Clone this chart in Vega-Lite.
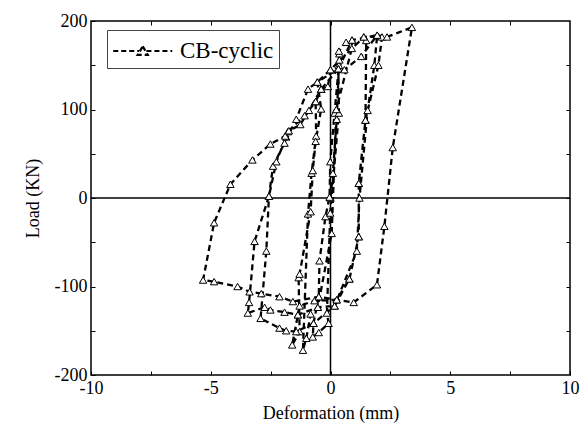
{
  "$schema": "https://vega.github.io/schema/vega-lite/v6.json",
  "width": 479,
  "height": 354,
  "padding": {"left": 91, "top": 21, "right": 14, "bottom": 62},
  "autosize": {"type": "none"},
  "config": {
    "font": "Liberation Serif",
    "view": {"stroke": "black", "strokeWidth": 1.5},
    "axis": {
      "domain": false, "grid": false, "labelFont": "Liberation Serif", "titleFont": "Liberation Serif",
      "labelFontSize": 18, "titleFontSize": 18, "titleFontWeight": "normal", "labelColor": "black", "titleColor": "black",
      "tickColor": "black", "tickSize": -4, "tickWidth": 1, "labelFlush": false,
      "labelExpr": "datum.value % 5 != 0 || (datum.value % 100 != 0 && abs(datum.value) > 10) ? '' : (datum.value < 0 ? '-' + abs(datum.value) : '' + datum.value)"
    }
  },
  "data": {
    "values": [
      {"o": 1, "d": 0, "f": 0}, {"o": 2, "d": 0.1, "f": 28}, {"o": 3, "d": 0.26, "f": 89}, {"o": 4, "d": 0.35, "f": 150},
      {"o": 5, "d": 0.37, "f": 163}, {"o": 6, "d": 0.37, "f": 156}, {"o": 7, "d": 0.17, "f": 96}, {"o": 8, "d": -0.01, "f": 41},
      {"o": 9, "d": -0.04, "f": 1}, {"o": 10, "d": -0.21, "f": -21}, {"o": 11, "d": -0.46, "f": -71}, {"o": 12, "d": -0.49, "f": -111.5},
      {"o": 13, "d": -0.71, "f": -141.6}, {"o": 14, "d": -0.74, "f": -157}, {"o": 15, "d": -0.49, "f": -152}, {"o": 16, "d": -0.08, "f": -141.6},
      {"o": 17, "d": -0.15, "f": -130}, {"o": 18, "d": -0.01, "f": -17}, {"o": 19, "d": 0.35, "f": 96}, {"o": 20, "d": 0.33, "f": 146},
      {"o": 21, "d": 0.35, "f": 166},
      {"o": 22, "d": 0.65, "f": 176}, {"o": 23, "d": 0.9, "f": 178.5}, {"o": 24, "d": 0.89, "f": 169}, {"o": 25, "d": 0.24, "f": 100},
      {"o": 26, "d": 0.05, "f": -40}, {"o": 27, "d": -0.53, "f": -123.5}, {"o": 28, "d": -0.83, "f": -131}, {"o": 29, "d": -1.01, "f": -158.5},
      {"o": 30, "d": -1.15, "f": -172}, {"o": 31, "d": -0.94, "f": -18}, {"o": 32, "d": -0.79, "f": 28}, {"o": 33, "d": -0.6, "f": 70},
      {"o": 34, "d": -0.62, "f": 109}, {"o": 35, "d": -0.39, "f": 123}, {"o": 36, "d": -0.11, "f": 126}, {"o": 37, "d": 0, "f": 145},
      {"o": 38, "d": 1.39, "f": 182}, {"o": 39, "d": 1.49, "f": 178},
      {"o": 40, "d": 1.46, "f": 88}, {"o": 41, "d": 1.18, "f": 16.6}, {"o": 42, "d": 1.18, "f": -43.7},
      {"o": 43, "d": 0.79, "f": -91.5}, {"o": 44, "d": 0.26, "f": -115}, {"o": 45, "d": -0.67, "f": -116}, {"o": 46, "d": -1.29, "f": -122},
      {"o": 47, "d": -1.36, "f": -132}, {"o": 48, "d": -1.6, "f": -166}, {"o": 49, "d": -1.29, "f": -151}, {"o": 50, "d": -1.33, "f": -90},
      {"o": 51, "d": -1.29, "f": -86}, {"o": 52, "d": -0.83, "f": -15.5}, {"o": 53, "d": -0.74, "f": 31}, {"o": 54, "d": -0.62, "f": 64},
      {"o": 55, "d": -0.39, "f": 100.6}, {"o": 56, "d": -0.55, "f": 131}, {"o": 57, "d": 0.33, "f": 146},
      {"o": 58, "d": 0.9, "f": 178.5}, {"o": 59, "d": 1.95, "f": 184}, {"o": 60, "d": 1.83, "f": 150}, {"o": 61, "d": 1.55, "f": 99},
      {"o": 62, "d": 1.21, "f": 0}, {"o": 63, "d": 1.1, "f": -60}, {"o": 64, "d": 0.17, "f": -122}, {"o": 65, "d": -0.71, "f": -141.6},
      {"o": 66, "d": -1.43, "f": -151}, {"o": 67, "d": -1.85, "f": -150}, {"o": 68, "d": -2.13, "f": -147}, {"o": 69, "d": -2.92, "f": -136},
      {"o": 70, "d": -2.68, "f": -60}, {"o": 71, "d": -2.57, "f": 2}, {"o": 72, "d": -2.4, "f": 36}, {"o": 73, "d": -1.92, "f": 62},
      {"o": 74, "d": -1.43, "f": 89}, {"o": 75, "d": -0.94, "f": 123}, {"o": 76, "d": -0.55, "f": 131}, {"o": 77, "d": 0, "f": 145},
      {"o": 78, "d": 1.39, "f": 182}, {"o": 79, "d": 2.15, "f": 182},
      {"o": 80, "d": 2.0, "f": 150}, {"o": 81, "d": 1.46, "f": 88}, {"o": 82, "d": 1.18, "f": 16.6}, {"o": 83, "d": 1.18, "f": -43.7},
      {"o": 84, "d": 0.79, "f": -91.5}, {"o": 85, "d": 0.17, "f": -122}, {"o": 86, "d": -0.53, "f": -123.5}, {"o": 87, "d": -1.36, "f": -132},
      {"o": 88, "d": -1.92, "f": -129}, {"o": 89, "d": -2.51, "f": -126.5}, {"o": 90, "d": -2.75, "f": -123.5}, {"o": 91, "d": -3.45, "f": -130},
      {"o": 92, "d": -3.4, "f": -118}, {"o": 93, "d": -3.17, "f": -49}, {"o": 94, "d": -2.57, "f": 2}, {"o": 95, "d": -2.26, "f": 41},
      {"o": 96, "d": -1.85, "f": 69}, {"o": 97, "d": -1.78, "f": 75}, {"o": 98, "d": -1.26, "f": 83}, {"o": 99, "d": -0.9, "f": 99},
      {"o": 100, "d": -0.39, "f": 123}, {"o": 101, "d": 0.33, "f": 146}, {"o": 102, "d": 0.58, "f": 145}, {"o": 103, "d": 1.28, "f": 160},
      {"o": 104, "d": 1.95, "f": 184}, {"o": 105, "d": 2.36, "f": 182}, {"o": 106, "d": 3.4, "f": 192.8},
      {"o": 107, "d": 2.6, "f": 57}, {"o": 108, "d": 2.25, "f": -32}, {"o": 109, "d": 1.94, "f": -98}, {"o": 110, "d": 0.97, "f": -118},
      {"o": 111, "d": 0.26, "f": -115}, {"o": 112, "d": -0.49, "f": -111.5}, {"o": 113, "d": -1.57, "f": -117}, {"o": 114, "d": -2.13, "f": -111.5},
      {"o": 115, "d": -2.89, "f": -108}, {"o": 116, "d": -3.38, "f": -106}, {"o": 117, "d": -3.88, "f": -100}, {"o": 118, "d": -4.86, "f": -94.5},
      {"o": 119, "d": -5.32, "f": -92.7}, {"o": 120, "d": -4.86, "f": -28}, {"o": 121, "d": -4.18, "f": 15.5}, {"o": 122, "d": -3.26, "f": 43},
      {"o": 123, "d": -2.51, "f": 61}, {"o": 124, "d": -1.89, "f": 70}, {"o": 125, "d": -1.74, "f": 76}, {"o": 126, "d": -1.08, "f": 93},
      {"o": 127, "d": -0.62, "f": 109}, {"o": 128, "d": -0.39, "f": 123}
    ]
  },
  "layer": [
    {
      "mark": {"type": "rule", "color": "black", "strokeWidth": 1.5},
      "data": {"values": [{"z": 0}]},
      "encoding": {"y": {"field": "z", "type": "quantitative", "scale": {"domain": [-200, 200]},
        "axis": {"orient": "right", "title": null, "labels": false, "values": [-150, -100, -50, 0, 50, 100, 150]}}}
    },
    {
      "mark": {"type": "rule", "color": "black", "strokeWidth": 1.5},
      "data": {"values": [{"z": 0}]},
      "encoding": {"x": {"field": "z", "type": "quantitative", "scale": {"domain": [-10, 10]},
        "axis": {"orient": "top", "title": null, "labels": false, "values": [-7.5, -5, -2.5, 0, 2.5, 5, 7.5]}}}
    },
    {
      "mark": {"type": "line", "strokeWidth": 2.3, "strokeDash": [6, 4]},
      "encoding": {
        "x": {"field": "d", "type": "quantitative", "scale": {"domain": [-10, 10], "nice": false},
          "axis": {"orient": "bottom", "title": "Deformation (mm)", "values": [-10, -7.5, -5, -2.5, 0, 2.5, 5, 7.5, 10], "titlePadding": 7, "labelPadding": 8}},
        "y": {"field": "f", "type": "quantitative", "scale": {"domain": [-200, 200], "nice": false},
          "axis": {"orient": "left", "title": "Load (KN)", "values": [-200, -150, -100, -50, 0, 50, 100, 150, 200], "titlePadding": 12, "labelPadding": 8}},
        "order": {"field": "o", "type": "quantitative"},
        "color": {"datum": "CB-cyclic", "scale": {"range": ["black"]},
          "legend": {"title": null, "orient": "none", "legendX": 16, "legendY": 9, "strokeColor": "#444", "padding": 5,
            "labelFont": "Liberation Serif", "labelFontSize": 23, "labelColor": "black", "labelOffset": 36,
            "symbolType": "M-1,0L0.75,0M1.25,0L3,0M1,-0.32L1.34,0.26L0.66,0.26Z", "symbolSize": 870,
            "symbolStrokeWidth": 2.2, "symbolDash": [5, 3], "symbolFillColor": "white", "symbolStrokeColor": "black"}}
      }
    },
    {
      "mark": {"type": "point", "shape": "triangle-up", "filled": true, "fill": "white", "stroke": "black", "strokeWidth": 1, "size": 55, "opacity": 1},
      "encoding": {
        "x": {"field": "d", "type": "quantitative", "axis": null},
        "y": {"field": "f", "type": "quantitative", "axis": null}
      }
    }
  ]
}
